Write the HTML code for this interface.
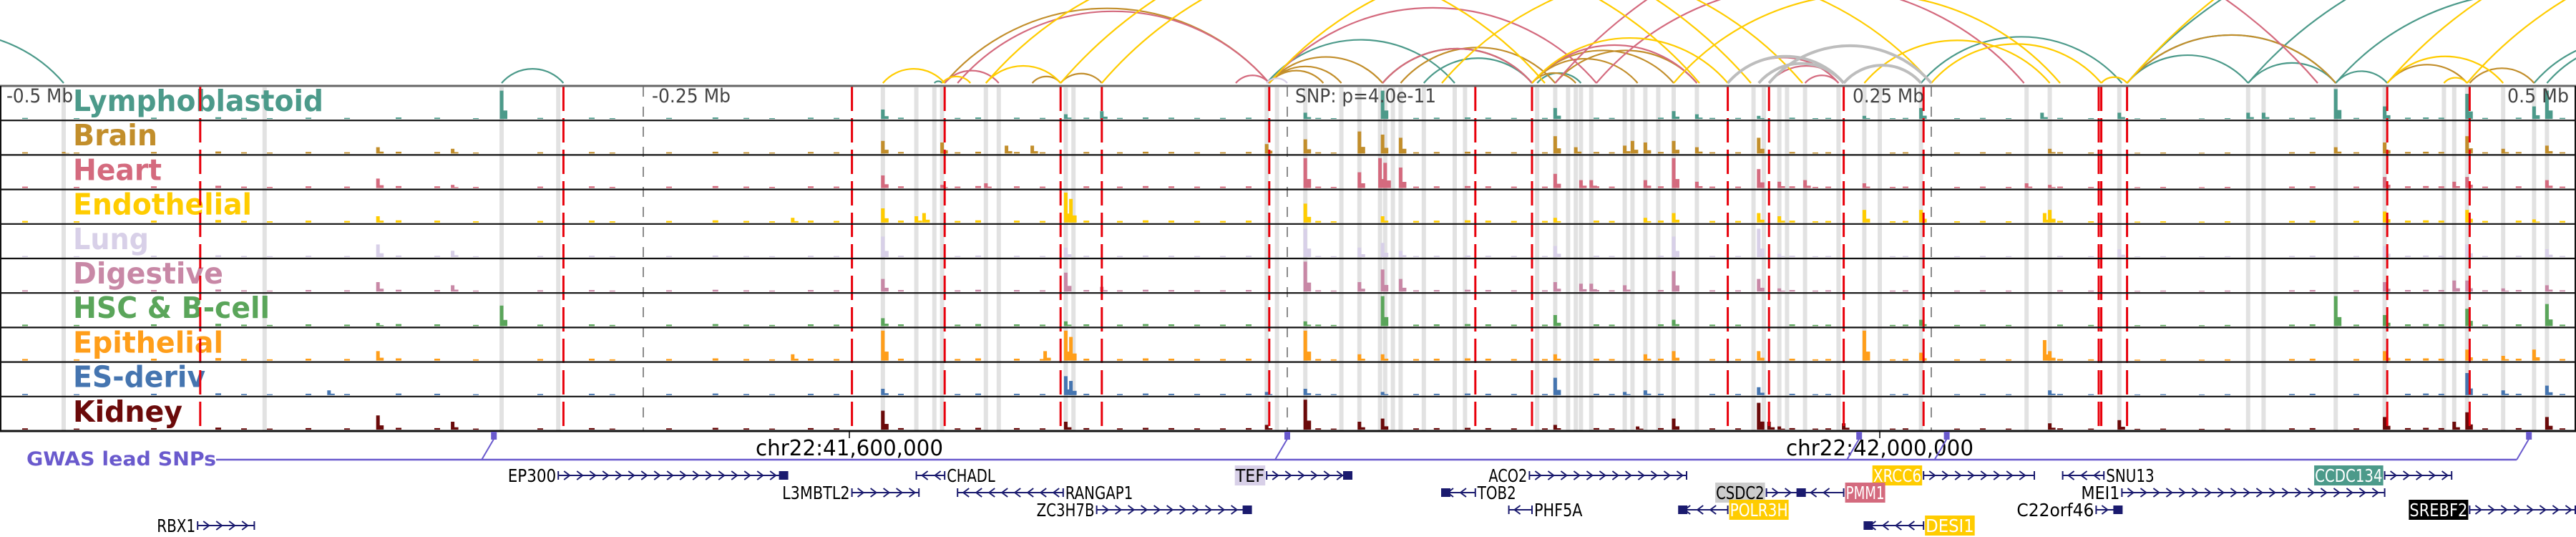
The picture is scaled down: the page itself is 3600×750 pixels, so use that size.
<!DOCTYPE html>
<html><head><meta charset="utf-8"><title>Chromatin tracks chr22</title>
<style>
html,body{margin:0;padding:0;background:#fff;}
svg{display:block;}
.cond{font-family:"DejaVu Sans Condensed","Liberation Sans Narrow","DejaVu Sans","Liberation Sans",sans-serif;font-stretch:condensed;}
</style></head>
<body>
<svg id="fig" xmlns="http://www.w3.org/2000/svg" width="3600" height="750" viewBox="0 0 3600 750">
<defs><clipPath id="arcclip"><rect x="0" y="0" width="3600" height="118"/></clipPath></defs>
<g id="arcs" clip-path="url(#arcclip)"></g>
<g id="cols"></g>
<g id="tracks"></g>
<g id="reds"></g>
<g id="axis"></g>
<g id="gwas"></g>
<g id="genes"></g>
</svg>
<script>
// ---- data (positions in kb relative to lead SNP) ----
const tissues = ["Lymphoblastoid","Brain","Heart","Endothelial","Lung","Digestive","HSC & B-cell","Epithelial","ES-deriv","Kidney"];
const tissueColors = ["#4c9a8a","#c28e2b","#d46a7e","#ffcc00","#d8d0e8","#c888a6","#5aa55a","#ff9e1a","#4575b0","#6b0a0a"];
const labelWidths = [350,118,124,250,106,210,275,210,185,153];

const peakPos = [
 [-305,-157,-86,-72,7,37,104,150,159,183,224,246,293,323,373,379,407,426,458,484,489],
 [-475,-353,-324,-157,-134,-109,-99,-8,7,28,37,44,104,112,131,134,139,150,159,183,296,407,426,458,472,489],
 [-353,-324,-157,-134,-117,7,28,36,38,44,104,114,118,139,150,159,183,191,201,224,287,296,426,453,458,489],
 [-353,-192,-157,-144,-141,-86,-84,7,37,104,139,150,183,191,224,246,294,296,426,458,484],
 [-353,-324,-157,-86,7,28,37,44,104,150,183,191,323,426,458,489],
 [-353,-324,-157,-86,-72,7,28,37,44,104,114,118,131,150,183,191,426,453,458,472,489],
 [-305,-353,-157,-86,7,37,104,150,246,407,426,458,489],
 [-353,-192,-157,-94,-86,-84,7,28,37,104,139,150,183,224,246,294,296,426,458,472,484],
 [-372,-157,-86,-84,-8,7,37,104,131,139,183,296,458,472,489],
 [-353,-324,-157,-86,-8,7,28,37,104,136,150,183,187,191,216,296,323,426,453,458,489]
];
const peakVal = [
 [0.9,0.3,0.15,0.25,0.2,0.9,0.35,0.25,0.15,0.1,0.1,0.35,0.2,0.2,0.2,0.2,0.95,0.4,0.8,0.4,0.9],
 [0.05,0.2,0.15,0.4,0.35,0.25,0.25,0.3,0.45,0.7,0.6,0.5,0.55,0.2,0.25,0.4,0.35,0.4,0.2,0.5,0.15,0.2,0.35,0.55,0.15,0.25],
 [0.3,0.1,0.4,0.1,0.15,0.95,0.5,0.95,0.8,0.65,0.45,0.25,0.25,0.25,0.95,0.2,0.6,0.2,0.25,0.15,0.15,0.1,0.35,0.2,0.35,0.25],
 [0.2,0.15,0.45,0.2,0.3,0.95,0.75,0.6,0.2,0.15,0.15,0.3,0.3,0.2,0.4,0.4,0.3,0.4,0.35,0.4,0.1],
 [0.4,0.2,0.65,0.3,0.9,0.3,0.45,0.2,0.35,0.65,0.9,0.1,0.25,0.35,0.4,0.25],
 [0.3,0.2,0.4,0.6,0.15,0.95,0.3,0.7,0.4,0.3,0.25,0.25,0.2,0.65,0.4,0.1,0.3,0.35,0.35,0.1,0.2],
 [0.65,0.1,0.25,0.15,0.15,0.95,0.35,0.2,0.2,0.95,0.35,0.55,0.7],
 [0.3,0.2,0.95,0.3,0.95,0.75,0.95,0.2,0.2,0.2,0.2,0.3,0.3,0.95,0.25,0.65,0.3,0.3,0.35,0.15,0.35],
 [0.15,0.2,0.6,0.45,0.1,0.2,0.1,0.55,0.1,0.15,0.25,0.15,0.7,0.15,0.3],
 [0.45,0.25,0.6,0.25,0.15,0.95,0.25,0.35,0.15,0.1,0.35,0.85,0.25,0.1,0.2,0.2,0.3,0.4,0.25,0.55,0.4]
];
const bgPos = [-490,-470,-440,-415,-405,-395,-380,-365,-345,-330,-315,-290,-270,-262,-240,-222,-210,-200,-185,-175,-150,-128,-120,-105,-95,-78,-65,-55,-45,-35,-25,-15,12,18,50,58,70,78,88,100,120,126,145,165,175,196,205,210,235,240,260,270,280,300,312,330,340,355,365,390,398,415,435,442,448,465,478,495];
const bgVal = [0.05,0.04,0.06,0.08,0.05,0.04,0.06,0.05,0.07,0.06,0.04,0.05,0.06,0.04,0.05,0.07,0.05,0.04,0.06,0.05,0.06,0.05,0.07,0.06,0.05,0.06,0.05,0.07,0.06,0.05,0.05,0.06,0.05,0.04,0.05,0.06,0.07,0.06,0.05,0.05,0.06,0.05,0.06,0.05,0.05,0.06,0.04,0.05,0.04,0.05,0.04,0.05,0.04,0.05,0.04,0.03,0.04,0.03,0.04,0.05,0.06,0.05,0.06,0.07,0.06,0.05,0.06,0.05];

const redLines = [-422,-281,-169,-133,-88,-72,-7,73,95,171,187,216,247,315,316,326,427,459];
const grayCols = [-475,-397,-305,-283,-157,-144,-137,-134,-117,-112,-86,-83,-8,-4,7,21,28,36,38,41,44,53,65,69,97,104,109,112,114,118,131,134,139,144,150,159,181,185,191,194,201,214,224,230,246,287,296,323,373,379,407,426,449,453,458,472,484,489];

const arcS = [-560,-305,-137,-8,37,53,97,246,326,326,373,407,326,373,407,484,489,
  -133,-88,-99,-7,-7,-7,37,95,95,95,326,427,459,104,44,
  -133,-128,37,95,-7,171,187,201,-20,104,120,
  -157,-117,-117,-88,-72,-7,95,224,250,316,326,427,427,458,449,60,150,-134,
  171,183,187,216,-8];
const arcE = [-475,-281,-134,65,95,95,114,324,373,407,407,427,600,620,560,560,560,
  -7,-72,-88,37,21,14,95,136,150,112,407,458,484,159,104,
  -112,-7,95,159,120,214,216,214,-7,400,286,
  -133,-88,100,180,160,200,171,296,316,326,700,472,700,700,458,250,300,-123,
  216,216,250,246,0];
const arcC = [0,0,0,0,0,0,0,0,0,0,0,0,0,0,0,0,0,
  1,1,1,1,1,1,1,1,1,1,1,1,1,1,1,
  2,2,2,2,2,2,2,2,2,2,2,
  3,3,3,3,3,3,3,3,3,3,3,3,3,3,3,3,3,3,
  10,10,10,10,11];

const snpKb = [-308,0,222,256,482];
const axisTicks = [-250,0,250];
const axisLabels = ["-0.5 Mb","-0.25 Mb","SNP: p=4.0e-11","0.25 Mb","0.5 Mb"];
const chrTicksKb = [-170,230];
const chrLabels = ["chr22:41,600,000","chr22:42,000,000"];

const geneNames = ["EP300","CHADL","TEF","ACO2","XRCC6","SNU13","CCDC134","L3MBTL2","RANGAP1","TOB2","CSDC2","PMM1","MEI1","ZC3H7B","PHF5A","POLR3H","C22orf46","SREBF2","RBX1","DESI1"];
const geneStart = [-283,-144,-8,94,247,301,426,-169,-128,60,186,201,324,-74,86,152,314,459,-423,224];
const geneEnd =   [-194,-133,25,155,290,317,452,-143,-87,73,201,216,426,-14,95,171,324,500,-401,247];
const geneRow =   [0,0,0,0,0,0,0,1,1,1,1,1,1,2,2,2,2,2,3,3];
const geneStrand= [1,-1,1,1,1,-1,1,1,-1,-1,1,-1,1,1,-1,-1,1,1,1,-1];
const geneBg =    ["","","#d8d0e8","","#ffcc00","","#4c9a8a","","","","#cccccc","#d46a7e","","","","#ffcc00","","#000000","","#ffcc00"];
const geneFg =    ["#000","#000","#000","#000","#fff","#000","#fff","#000","#000","#000","#000","#fff","#000","#000","#000","#fff","#000","#fff","#000","#fff"];

// ---- scales ----
const NS="http://www.w3.org/2000/svg";
const X = kb => 1799 + kb*3.6;
const TOP=120, TH=48.2;
function el(tag, attrs, parent){const e=document.createElementNS(NS,tag);for(const k in attrs)e.setAttribute(k,attrs[k]);parent.appendChild(e);return e;}
const arcColors = tissueColors.concat(["#bdbdbd","#d8d0e8"]);

// arcs
const gA=document.getElementById('arcs');
for(let i=0;i<arcS.length;i++){
  const x1=X(arcS[i]),x2=X(arcE[i]),c=x2-x1,h=0.23*c,R=(c*c/4+h*h)/(2*h);
  const p=el('path',{d:`M${x1},116 A${R},${R} 0 0 1 ${x2},116`,fill:'none',stroke:arcColors[arcC[i]],'stroke-width':arcC[i]==10?4:2.2},gA);
  
  
}
// gray columns
const gC=document.getElementById('cols');
grayCols.forEach(k=>{
  const r=el('rect',{x:X(k)-3,y:122,width:6,height:480,fill:'#e2e2e2'},gC);
  
  
});
// tracks
const gT=document.getElementById('tracks');
tissues.forEach((t,i)=>{
  const y0=TOP+TH*i, base=y0+TH-2, col=tissueColors[i];
  const g=el('g',{},gT);
  
  
  bgPos.forEach((k,j)=>{
    const h=bgVal[j]*44*(0.7+0.1*(i%4));
    const b=el('rect',{x:X(k)-4,y:base-h,width:8,height:h,fill:col},g);
    
    
  });
  peakPos[i].forEach((k,j)=>{
    const h=peakVal[i][j]*44;
    const b=el('rect',{x:X(k)-2.5,y:base-h,width:5,height:h,fill:col},g);
    
    
    const h2=h*0.3;
    el('rect',{x:X(k)+2,y:base-h2,width:6,height:h2,fill:col},g);
  });
  const lab=el('text',{x:102,y:y0+35,'font-size':41,'font-weight':'bold',fill:col,textLength:labelWidths[i],lengthAdjust:'spacingAndGlyphs',class:'cond'},g);
  lab.textContent=t;
  
  
});
// red lines
const gR=document.getElementById('reds');
redLines.forEach(k=>{
  const l=el('line',{x1:X(k),x2:X(k),y1:121,y2:602,stroke:'#e8000b','stroke-width':3,'stroke-dasharray':'34,10'},gR);
  
  
});
// axis / frame
const gX=document.getElementById('axis');
axisTicks.forEach(k=>{
  const l=el('line',{x1:X(k),x2:X(k),y1:121,y2:602,stroke:'#666','stroke-width':1.5,'stroke-dasharray':'14,14'},gX);
  
  
});
for(let i=0;i<=10;i++){
  const y=TOP+TH*i;
  el('line',{x1:0,x2:3600,y1:y,y2:y,stroke:i==0?'#666':'#111','stroke-width':i==0||i==10?3:2.2},gX);
}
el('line',{x1:1,x2:1,y1:120,y2:602,stroke:'#111','stroke-width':2},gX);
el('line',{x1:3599,x2:3599,y1:120,y2:602,stroke:'#111','stroke-width':2},gX);
const axX=[9,911,1810,2689,3590], axA=['start','start','start','end','end'], axW=[93,110,197,100,86];
axisLabels.forEach((s,i)=>{
  const t=el('text',{x:axX[i],y:143,'font-size':27,fill:'#444','text-anchor':axA[i],textLength:axW[i],lengthAdjust:'spacingAndGlyphs',class:'cond'},gX);
  t.textContent=s;
  
  
});
chrTicksKb.forEach((k,i)=>{
  el('line',{x1:X(k),x2:X(k),y1:602,y2:612,stroke:'#000','stroke-width':1.5},gX);
  const t=el('text',{x:X(k),y:636,'font-size':30,fill:'#000','text-anchor':'middle',textLength:262,lengthAdjust:'spacingAndGlyphs',class:'cond'},gX);
  t.textContent=chrLabels[i];
  
  
});
// GWAS
const gG=document.getElementById('gwas');
const gl=el('text',{x:37,y:650,'font-size':27,'font-weight':'bold',fill:'#6a5acd',textLength:265,lengthAdjust:'spacingAndGlyphs',class:'cond'},gG);
gl.textContent='GWAS lead SNPs';


const lineY=642;
const endX=[X(snpKb[0])-18, X(snpKb[snpKb.length-1])-17];
el('line',{x1:302,x2:endX[1],y1:lineY,y2:lineY,stroke:'#6a5acd','stroke-width':2.5},gG);
snpKb.forEach((k,i)=>{
  const x=X(k);
  const m=el('rect',{x:x-4,y:603,width:8,height:11,fill:'#6a5acd'},gG);
  
  
  el('line',{x1:x,x2:x-17,y1:613,y2:lineY,stroke:'#6a5acd','stroke-width':2},gG);
});
// genes
const gN=document.getElementById('genes');
const rowY=[664,688,712,734];
const navy='#1a1a6e';
geneNames.forEach((n,i)=>{
  const g=el('g',{},gN);
  
  
  const x1=X(geneStart[i]),x2=X(geneEnd[i]),y=rowY[geneRow[i]],s=geneStrand[i];
  el('line',{x1:x1,x2:x2,y1:y,y2:y,stroke:navy,'stroke-width':2},g);
  el('line',{x1:x1,x2:x1,y1:y-6,y2:y+6,stroke:navy,'stroke-width':2},g);
  el('line',{x1:x2,x2:x2,y1:y-6,y2:y+6,stroke:navy,'stroke-width':2},g);
  for(let x=x1+12;x<x2-6;x+=18){
    el('path',{d:`M${x-4*s},${y-6} L${x+4*s},${y} L${x-4*s},${y+6}`,fill:'none',stroke:navy,'stroke-width':2},g);
  }
  const bx = s>0 ? x2-12 : x1;
  if(i==0||i==2||i==9||i==13||i==15||i==16||i==19||i==10) el('rect',{x:bx,y:y-6,width:12,height:12,fill:navy},g);
  const w=n.length*13.5;
  const lx = s>0 ? x1-3-w : x2+3;
  if(geneBg[i]) el('rect',{x:lx-1,y:y-14,width:w+2,height:28,fill:geneBg[i]},g);
  const t=el('text',{x:lx,y:y+9,'font-size':25,fill:geneFg[i],textLength:w,lengthAdjust:'spacingAndGlyphs',class:'cond'},g);
  t.textContent=n;
  
  
});
</script>
</body></html>
